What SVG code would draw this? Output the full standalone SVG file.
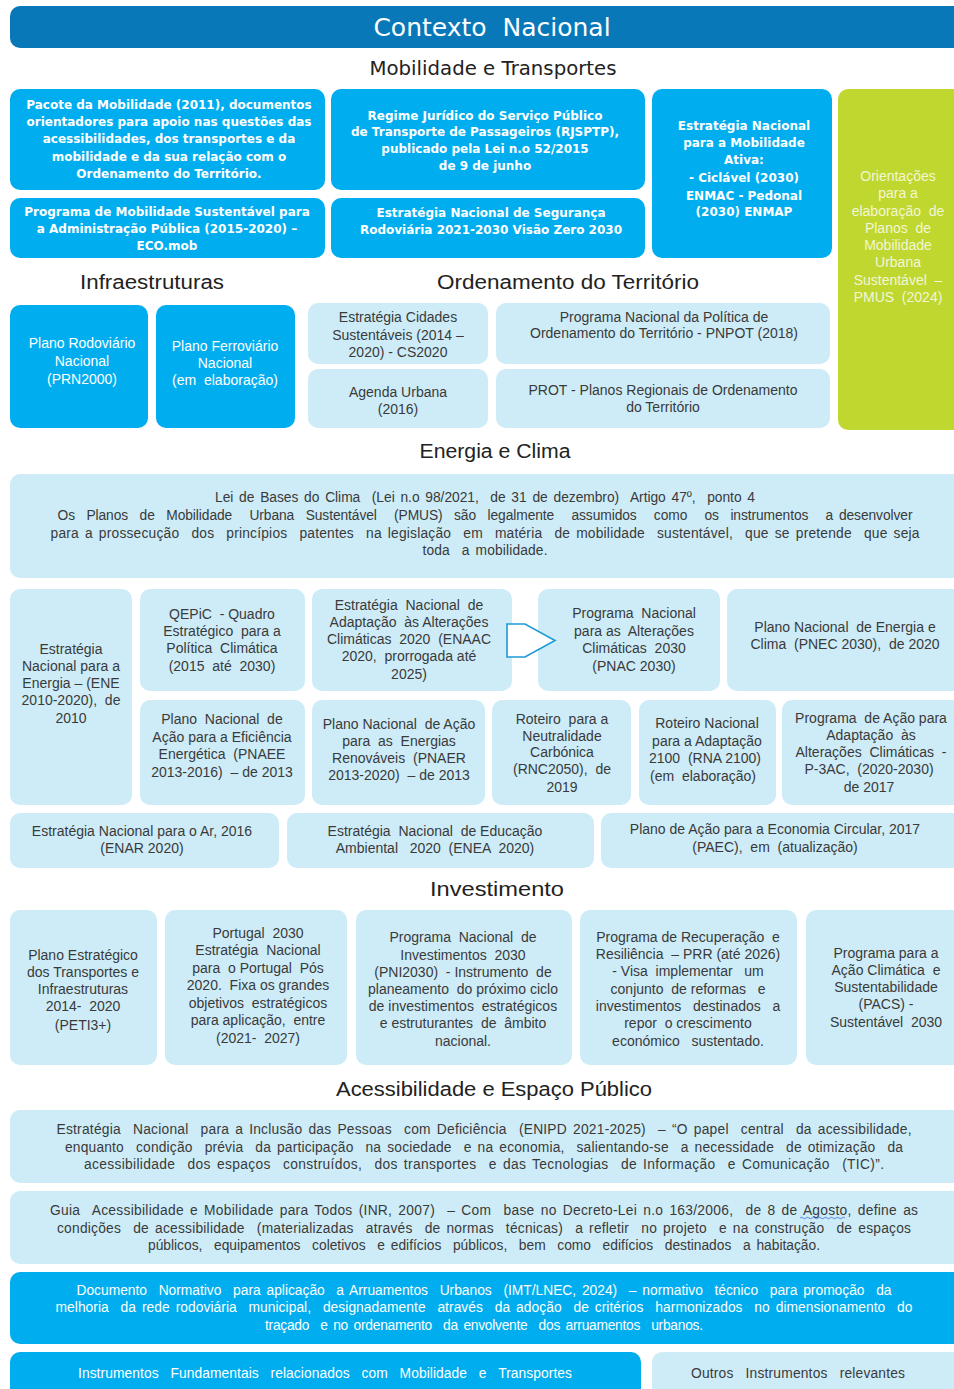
<svg xmlns="http://www.w3.org/2000/svg" width="954" height="1389" viewBox="0 0 954 1389">
  <defs>
    <style>
      text { white-space: pre; }
      .bg { fill: #ffffff; }
      .hdr { fill: #0878B9; }
      .dk { fill: #00AEEF; }
      .lt { fill: #CDECF8; }
      .gr { fill: #C0D72F; }
      .title { font-family: "DejaVu Sans", "Liberation Sans", sans-serif; font-size: 25px; fill: #ffffff; text-anchor: middle; }
      .sec { font-family: "DejaVu Sans", "Liberation Sans", sans-serif; font-size: 19px; fill: #222222; text-anchor: middle; }
      .sec2 { font-family: "Liberation Sans", "DejaVu Sans", sans-serif; font-size: 20px; fill: #222222; text-anchor: middle; }
      .mb { font-family: "DejaVu Sans", "Liberation Sans", sans-serif; font-weight: bold; font-size: 12px; fill: #ffffff; text-anchor: middle; }
      .t { font-family: "Liberation Sans", "DejaVu Sans", sans-serif; font-size: 14px; fill: #3a3a3a; text-anchor: middle; }
      .tp { font-family: "Liberation Sans", "DejaVu Sans", sans-serif; font-size: 13.8px; fill: #3a3a3a; text-anchor: middle; word-spacing: 2px; }
      .tw { font-family: "Liberation Sans", "DejaVu Sans", sans-serif; font-size: 14px; fill: #ffffff; text-anchor: middle; }
      .twp { font-family: "Liberation Sans", "DejaVu Sans", sans-serif; font-size: 13.8px; fill: #ffffff; text-anchor: middle; word-spacing: 2px; }
      .tg { font-family: "Liberation Sans", "DejaVu Sans", sans-serif; font-size: 14px; fill: #F2F6D6; text-anchor: middle; }
      .arrow { fill: #ffffff; stroke: #1C9AD6; stroke-width: 1.6; stroke-linejoin: miter; }
      .spell { fill: none; stroke: #4A7BD0; stroke-width: 0.9; }
    </style>
  </defs>

  <rect class="bg" x="0" y="0" width="954" height="1389"/>

  <!-- Title bar -->
  <g id="title">
    <rect class="hdr" x="10" y="6" width="960" height="42" rx="10"/>
    <text class="title" x="492" y="36">Contexto  Nacional</text>
  </g>

  <!-- Section headings -->
  <g id="headings">
    <text class="sec" x="493" y="75" textLength="247" lengthAdjust="spacingAndGlyphs">Mobilidade e Transportes</text>
    <text class="sec2" x="152" y="289" textLength="144" lengthAdjust="spacingAndGlyphs">Infraestruturas</text>
    <text class="sec2" x="568" y="289" textLength="262" lengthAdjust="spacingAndGlyphs">Ordenamento do Território</text>
    <text class="sec2" x="495" y="458" textLength="151" lengthAdjust="spacingAndGlyphs">Energia e Clima</text>
    <text class="sec2" x="497" y="896" textLength="134" lengthAdjust="spacingAndGlyphs">Investimento</text>
    <text class="sec2" x="494" y="1096" textLength="316" lengthAdjust="spacingAndGlyphs">Acessibilidade e Espaço Público</text>
  </g>

  <!-- Mobilidade e Transportes -->
  <g id="pacote-mobilidade">
    <rect class="dk" x="10" y="89" width="315" height="101" rx="10"/>
    <text class="mb" x="169" y="109">Pacote da Mobilidade (2011), documentos</text>
    <text class="mb" x="169" y="126">orientadores para apoio nas questões das</text>
    <text class="mb" x="169" y="143">acessibilidades, dos transportes e da</text>
    <text class="mb" x="169" y="161">mobilidade e da sua relação com o</text>
    <text class="mb" x="169" y="178">Ordenamento do Território.</text>
  </g>
  <g id="rjsptp">
    <rect class="dk" x="331" y="89" width="314" height="101" rx="10"/>
    <text class="mb" x="485" y="120">Regime Jurídico do Serviço Público</text>
    <text class="mb" x="485" y="136">de Transporte de Passageiros (RJSPTP),</text>
    <text class="mb" x="485" y="153">publicado pela Lei n.o 52/2015</text>
    <text class="mb" x="485" y="170">de 9 de junho</text>
  </g>
  <g id="enma">
    <rect class="dk" x="652" y="89" width="180" height="169" rx="10"/>
    <text class="mb" x="744" y="130">Estratégia Nacional</text>
    <text class="mb" x="744" y="147">para a Mobilidade</text>
    <text class="mb" x="744" y="164">Ativa:</text>
    <text class="mb" x="744" y="182">- Ciclável (2030)</text>
    <text class="mb" x="744" y="200">ENMAC - Pedonal</text>
    <text class="mb" x="744" y="216">(2030) ENMAP</text>
  </g>
  <g id="pmus">
    <rect class="gr" x="838" y="89" width="130" height="341" rx="10"/>
    <text class="tg" x="898" y="181">Orientações</text>
    <text class="tg" x="898" y="198">para a</text>
    <text class="tg" x="898" y="216">elaboração  de</text>
    <text class="tg" x="898" y="233">Planos  de</text>
    <text class="tg" x="898" y="250">Mobilidade</text>
    <text class="tg" x="898" y="267">Urbana</text>
    <text class="tg" x="898" y="285">Sustentável  –</text>
    <text class="tg" x="898" y="302">PMUS  (2024)</text>
  </g>
  <g id="eco-mob">
    <rect class="dk" x="10" y="198" width="315" height="60" rx="10"/>
    <text class="mb" x="167" y="216">Programa de Mobilidade Sustentável para</text>
    <text class="mb" x="167" y="233">a Administração Pública (2015-2020) –</text>
    <text class="mb" x="167" y="250">ECO.mob</text>
  </g>
  <g id="visao-zero">
    <rect class="dk" x="331" y="198" width="314" height="60" rx="10"/>
    <text class="mb" x="491" y="217">Estratégia Nacional de Segurança</text>
    <text class="mb" x="491" y="234">Rodoviária 2021-2030 Visão Zero 2030</text>
  </g>

  <!-- Infraestruturas -->
  <g id="prn2000">
    <rect class="dk" x="10" y="305" width="138" height="123" rx="10"/>
    <text class="tw" x="82" y="348">Plano Rodoviário</text>
    <text class="tw" x="82" y="366">Nacional</text>
    <text class="tw" x="82" y="384">(PRN2000)</text>
  </g>
  <g id="pfn">
    <rect class="dk" x="156" y="305" width="139" height="123" rx="10"/>
    <text class="tw" x="225" y="351">Plano Ferroviário</text>
    <text class="tw" x="225" y="368">Nacional</text>
    <text class="tw" x="225" y="385">(em  elaboração)</text>
  </g>

  <!-- Ordenamento do Território -->
  <g id="cs2020">
    <rect class="lt" x="308" y="303" width="180" height="61" rx="10"/>
    <text class="t" x="398" y="322">Estratégia Cidades</text>
    <text class="t" x="398" y="340">Sustentáveis (2014 –</text>
    <text class="t" x="398" y="357">2020) - CS2020</text>
  </g>
  <g id="pnpot">
    <rect class="lt" x="496" y="303" width="334" height="61" rx="10"/>
    <text class="t" x="664" y="322">Programa Nacional da Política de</text>
    <text class="t" x="664" y="338">Ordenamento do Território - PNPOT (2018)</text>
  </g>
  <g id="agenda-urbana">
    <rect class="lt" x="308" y="369" width="180" height="59" rx="10"/>
    <text class="t" x="398" y="397">Agenda Urbana</text>
    <text class="t" x="398" y="414">(2016)</text>
  </g>
  <g id="prot">
    <rect class="lt" x="496" y="369" width="334" height="59" rx="10"/>
    <text class="t" x="663" y="395">PROT - Planos Regionais de Ordenamento</text>
    <text class="t" x="663" y="412">do Território</text>
  </g>

  <!-- Energia e Clima -->
  <g id="lei-bases-clima">
    <rect class="lt" x="10" y="474" width="960" height="104" rx="10"/>
    <text class="tp" x="485" y="502" textLength="540" lengthAdjust="spacing">Lei de Bases do Clima  (Lei n.o 98/2021,  de 31 de dezembro)  Artigo 47º,  ponto 4</text>
    <text class="tp" x="485" y="520" textLength="855" lengthAdjust="spacing">Os  Planos  de  Mobilidade   Urbana  Sustentável   (PMUS)  são  legalmente   assumidos   como   os  instrumentos   a desenvolver</text>
    <text class="tp" x="485" y="538" textLength="869" lengthAdjust="spacing">para a prossecução  dos  princípios  patentes  na legislação  em  matéria  de mobilidade  sustentável,  que se pretende  que seja</text>
    <text class="tp" x="485" y="555" textLength="125" lengthAdjust="spacing">toda  a mobilidade.</text>
  </g>
  <g id="ene">
    <rect class="lt" x="10" y="589" width="122" height="216" rx="10"/>
    <text class="t" x="71" y="654">Estratégia</text>
    <text class="t" x="71" y="671">Nacional para a</text>
    <text class="t" x="71" y="688">Energia – (ENE</text>
    <text class="t" x="71" y="705">2010-2020),  de</text>
    <text class="t" x="71" y="723">2010</text>
  </g>
  <g id="qepic">
    <rect class="lt" x="140" y="589" width="165" height="102" rx="10"/>
    <text class="t" x="222" y="619">QEPiC  - Quadro</text>
    <text class="t" x="222" y="636">Estratégico  para a</text>
    <text class="t" x="222" y="653">Política  Climática</text>
    <text class="t" x="222" y="671">(2015  até  2030)</text>
  </g>
  <g id="enaac">
    <rect class="lt" x="312" y="589" width="200" height="102" rx="10"/>
    <text class="t" x="409" y="610">Estratégia  Nacional  de</text>
    <text class="t" x="409" y="627">Adaptação  às Alterações</text>
    <text class="t" x="409" y="644">Climáticas  2020  (ENAAC</text>
    <text class="t" x="409" y="661">2020,  prorrogada até</text>
    <text class="t" x="409" y="679">2025)</text>
  </g>
  <g id="pnac">
    <rect class="lt" x="538" y="589" width="182" height="102" rx="10"/>
    <text class="t" x="634" y="618">Programa  Nacional</text>
    <text class="t" x="634" y="636">para as  Alterações</text>
    <text class="t" x="634" y="653">Climáticas  2030</text>
    <text class="t" x="634" y="671">(PNAC 2030)</text>
  </g>
  <g id="pnec">
    <rect class="lt" x="727" y="589" width="240" height="102" rx="10"/>
    <text class="t" x="845" y="632">Plano Nacional  de Energia e</text>
    <text class="t" x="845" y="649">Clima  (PNEC 2030),  de 2020</text>
  </g>
  <g id="pnaee">
    <rect class="lt" x="140" y="700" width="165" height="105" rx="10"/>
    <text class="t" x="222" y="724">Plano  Nacional  de</text>
    <text class="t" x="222" y="742">Ação para a Eficiência</text>
    <text class="t" x="222" y="759">Energética  (PNAEE</text>
    <text class="t" x="222" y="777">2013-2016)  – de 2013</text>
  </g>
  <g id="pnaer">
    <rect class="lt" x="312" y="700" width="173" height="105" rx="10"/>
    <text class="t" x="399" y="729">Plano Nacional  de Ação</text>
    <text class="t" x="399" y="746">para  as  Energias</text>
    <text class="t" x="399" y="763">Renováveis  (PNAER</text>
    <text class="t" x="399" y="780">2013-2020)  – de 2013</text>
  </g>
  <g id="rnc2050">
    <rect class="lt" x="492" y="700" width="139" height="105" rx="10"/>
    <text class="t" x="562" y="724">Roteiro  para a</text>
    <text class="t" x="562" y="741">Neutralidade</text>
    <text class="t" x="562" y="757">Carbónica</text>
    <text class="t" x="562" y="774">(RNC2050),  de</text>
    <text class="t" x="562" y="792">2019</text>
  </g>
  <g id="rna2100">
    <rect class="lt" x="639" y="700" width="137" height="105" rx="10"/>
    <text class="t" x="707" y="728">Roteiro Nacional</text>
    <text class="t" x="707" y="746">para a Adaptação</text>
    <text class="t" x="705" y="763">2100  (RNA 2100)</text>
    <text class="t" x="703" y="781">(em  elaboração)</text>
  </g>
  <g id="p3ac">
    <rect class="lt" x="782" y="700" width="185" height="105" rx="10"/>
    <text class="t" x="871" y="723">Programa  de Ação para</text>
    <text class="t" x="871" y="740">Adaptação  às</text>
    <text class="t" x="871" y="757">Alterações  Climáticas  -</text>
    <text class="t" x="869" y="774">P-3AC,  (2020-2030)</text>
    <text class="t" x="869" y="792">de 2017</text>
  </g>
  <g id="enar">
    <rect class="lt" x="10" y="813" width="269" height="55" rx="10"/>
    <text class="t" x="142" y="836">Estratégia Nacional para o Ar, 2016</text>
    <text class="t" x="142" y="853">(ENAR 2020)</text>
  </g>
  <g id="enea">
    <rect class="lt" x="287" y="813" width="307" height="55" rx="10"/>
    <text class="t" x="435" y="836">Estratégia  Nacional  de Educação</text>
    <text class="t" x="435" y="853">Ambiental   2020  (ENEA  2020)</text>
  </g>
  <g id="paec">
    <rect class="lt" x="601" y="813" width="366" height="55" rx="10"/>
    <text class="t" x="775" y="834">Plano de Ação para a Economia Circular, 2017</text>
    <text class="t" x="775" y="852">(PAEC),  em  (atualização)</text>
  </g>

  <!-- Investimento -->
  <g id="peti3">
    <rect class="lt" x="10" y="910" width="147" height="155" rx="10"/>
    <text class="t" x="83" y="960">Plano Estratégico</text>
    <text class="t" x="83" y="977">dos Transportes e</text>
    <text class="t" x="83" y="994">Infraestruturas</text>
    <text class="t" x="83" y="1011">2014-  2020</text>
    <text class="t" x="83" y="1030">(PETI3+)</text>
  </g>
  <g id="portugal2030">
    <rect class="lt" x="165" y="910" width="182" height="155" rx="10"/>
    <text class="t" x="258" y="938">Portugal  2030</text>
    <text class="t" x="258" y="955">Estratégia  Nacional</text>
    <text class="t" x="258" y="973">para  o Portugal  Pós</text>
    <text class="t" x="258" y="990">2020.  Fixa os grandes</text>
    <text class="t" x="258" y="1008">objetivos  estratégicos</text>
    <text class="t" x="258" y="1025">para aplicação,  entre</text>
    <text class="t" x="258" y="1043">(2021-  2027)</text>
  </g>
  <g id="pni2030">
    <rect class="lt" x="356" y="910" width="216" height="155" rx="10"/>
    <text class="t" x="463" y="942">Programa  Nacional  de</text>
    <text class="t" x="463" y="960">Investimentos  2030</text>
    <text class="t" x="463" y="977">(PNI2030)  - Instrumento  de</text>
    <text class="t" x="463" y="994">planeamento  do próximo ciclo</text>
    <text class="t" x="463" y="1011">de investimentos  estratégicos</text>
    <text class="t" x="463" y="1028">e estruturantes  de  âmbito</text>
    <text class="t" x="463" y="1046">nacional.</text>
  </g>
  <g id="prr">
    <rect class="lt" x="580" y="910" width="217" height="155" rx="10"/>
    <text class="t" x="688" y="942">Programa de Recuperação  e</text>
    <text class="t" x="688" y="959">Resiliência  – PRR (até 2026)</text>
    <text class="t" x="688" y="976">- Visa  implementar   um</text>
    <text class="t" x="688" y="994">conjunto  de reformas   e</text>
    <text class="t" x="688" y="1011">investimentos   destinados   a</text>
    <text class="t" x="688" y="1028">repor  o crescimento</text>
    <text class="t" x="688" y="1046">económico   sustentado.</text>
  </g>
  <g id="pacs">
    <rect class="lt" x="806" y="910" width="161" height="155" rx="10"/>
    <text class="t" x="886" y="958">Programa para a</text>
    <text class="t" x="886" y="975">Ação Climática  e</text>
    <text class="t" x="886" y="992">Sustentabilidade</text>
    <text class="t" x="886" y="1009">(PACS) -</text>
    <text class="t" x="886" y="1027">Sustentável  2030</text>
  </g>

  <!-- Acessibilidade e Espaço Público -->
  <g id="enipd">
    <rect class="lt" x="10" y="1110" width="960" height="73" rx="10"/>
    <text class="tp" x="484" y="1134" textLength="855" lengthAdjust="spacing">Estratégia  Nacional  para a Inclusão das Pessoas  com Deficiência  (ENIPD 2021-2025)  – “O papel  central  da acessibilidade,</text>
    <text class="tp" x="484" y="1152" textLength="838" lengthAdjust="spacing">enquanto  condição  prévia  da participação  na sociedade  e na economia,  salientando-se  a necessidade  de otimização  da</text>
    <text class="tp" x="484" y="1169" textLength="800" lengthAdjust="spacing">acessibilidade  dos espaços  construídos,  dos transportes  e das Tecnologias  de Informação  e Comunicação  (TIC)”.</text>
  </g>
  <g id="guia-inr">
    <rect class="lt" x="10" y="1191" width="960" height="73" rx="10"/>
    <text class="tp" x="484" y="1215" textLength="868" lengthAdjust="spacing">Guia  Acessibilidade e Mobilidade para Todos (INR, 2007)  – Com  base no Decreto-Lei n.o 163/2006,  de 8 de Agosto, define as</text>
    <text class="tp" x="484" y="1233" textLength="854" lengthAdjust="spacing">condições  de acessibilidade  (materializadas  através  de normas  técnicas)  a refletir  no projeto  e na construção  de espaços</text>
    <text class="tp" x="484" y="1250" textLength="672" lengthAdjust="spacing">públicos,  equipamentos  coletivos  e edifícios  públicos,  bem  como  edifícios  destinados  a habitação.</text>
    <path class="spell" d="M800,1218 q1.5,-1.5 3,0 t3,0 t3,0 t3,0 t3,0 t3,0 t3,0 t3,0 t3,0 t3,0 t3,0 t3,0 t3,0 t3,0 t3,0"/>
  </g>
  <g id="imt-lnec">
    <rect class="dk" x="10" y="1272" width="960" height="72" rx="10"/>
    <text class="twp" x="484" y="1295" textLength="815" lengthAdjust="spacing">Documento  Normativo  para aplicação  a Arruamentos  Urbanos  (IMT/LNEC, 2024)  – normativo  técnico  para promoção  da</text>
    <text class="twp" x="484" y="1312" textLength="857" lengthAdjust="spacing">melhoria  da rede rodoviária  municipal,  designadamente  através  da adoção  de critérios  harmonizados  no dimensionamento  do</text>
    <text class="twp" x="484" y="1330" textLength="438" lengthAdjust="spacing">traçado  e no ordenamento  da envolvente  dos arruamentos  urbanos.</text>
  </g>

  <!-- Legend -->
  <g id="legend-fundamentais">
    <rect class="dk" x="10" y="1352" width="631" height="50" rx="10"/>
    <text class="twp" x="325" y="1378" textLength="494" lengthAdjust="spacing">Instrumentos  Fundamentais  relacionados  com  Mobilidade  e  Transportes</text>
  </g>
  <g id="legend-outros">
    <rect class="lt" x="652" y="1352" width="315" height="50" rx="10"/>
    <text class="tp" x="798" y="1378" textLength="214" lengthAdjust="spacing">Outros  Instrumentos  relevantes</text>
  </g>

  <!-- Connectors -->
  <g id="connectors">
    <polygon class="arrow" points="507,624 525,624 555,640.5 525,657 507,657"/>
  </g>
</svg>
